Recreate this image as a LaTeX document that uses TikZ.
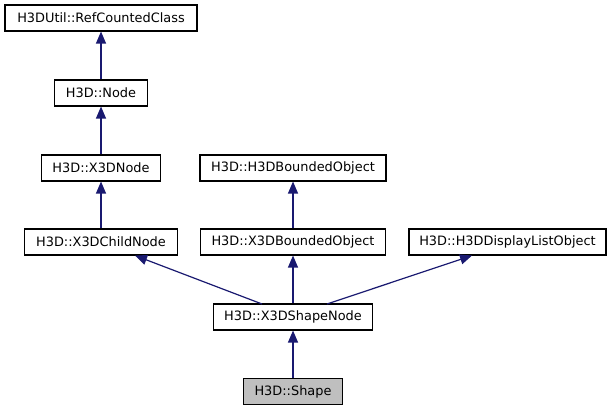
\documentclass[tikz,border=0pt]{standalone}
\usepackage{fontspec}
\setmainfont{DejaVu Sans}
\usetikzlibrary{arrows.meta}
\definecolor{edgeblue}{HTML}{191970}
\definecolor{shapegray}{HTML}{BFBFBF}
\tikzset{
  cls/.style={draw=black, fill=white, line width=1.1pt, inner sep=0pt, minimum height=26pt, font=\fontsize{12.9}{14}\selectfont, anchor=center},
  inh/.style={draw=edgeblue, line width=1.2pt, -{Triangle[length=12pt,width=10pt,fill=edgeblue]}},
}
\begin{document}
\begin{tikzpicture}[x=1pt,y=-1pt]
\useasboundingbox (0,0) rectangle (615,411);
\node[cls, minimum width=192pt] (rcc) at (101,18) {H3DUtil::RefCountedClass};
\node[cls, minimum width=93pt] (node) at (101,93) {H3D::Node};
\node[cls, minimum width=119pt] (x3dn) at (101,168) {H3D::X3DNode};
\node[cls, minimum width=153pt] (child) at (101,242) {H3D::X3DChildNode};
\node[cls, minimum width=186pt] (hbo) at (293,168) {H3D::H3DBoundedObject};
\node[cls, minimum width=185pt] (xbo) at (293,242) {H3D::X3DBoundedObject};
\node[cls, minimum width=197pt] (hdl) at (507.5,242) {H3D::H3DDisplayListObject};
\node[cls, minimum width=159pt] (shn) at (293,317) {H3D::X3DShapeNode};
\node[cls, minimum width=99pt, fill=shapegray] (shape) at (293,391.5) {H3D::Shape};
\draw[inh] (node) -- (rcc);
\draw[inh] (x3dn) -- (node);
\draw[inh] (child) -- (x3dn);
\draw[inh] (xbo) -- (hbo);
\draw[inh] (shape) -- (shn);
\draw[inh] (shn.north) -- (xbo.south);
\coordinate (sl) at (262,304);
\coordinate (sr) at (327,304);
\draw[inh] (sl) -- (child.south -| 135,0);
\draw[inh] (sr) -- (hdl.south -| 472,0);
\end{tikzpicture}
\end{document}
